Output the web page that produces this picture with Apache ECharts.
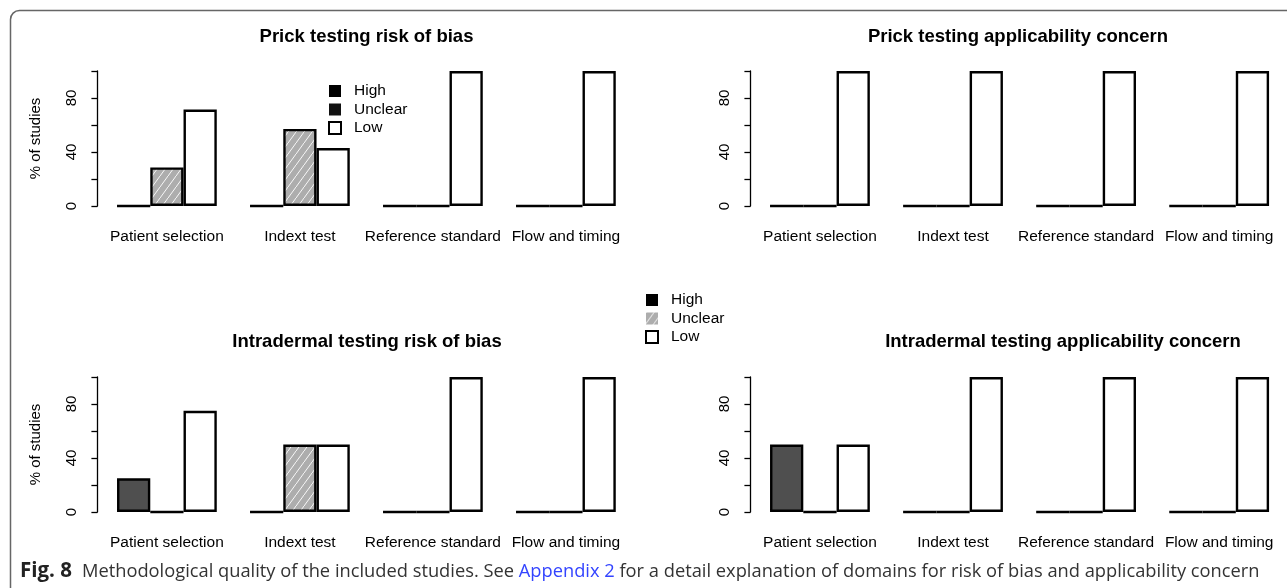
<!DOCTYPE html>
<html>
<head>
<meta charset="utf-8">
<script src="https://cdn.jsdelivr.net/npm/echarts@6/dist/echarts.min.js"></script>
<style>
html,body{margin:0;padding:0;background:#fff;}
#chart{width:1287px;height:588px;}
</style>
</head>
<body>
<div id="chart"></div>
<script>
// ---- data ----
const categories = ['Patient selection', 'Indext test', 'Reference standard', 'Flow and timing'];
const levels = ['High', 'Unclear', 'Low'];
const yTicks = [0, 20, 40, 60, 80, 100];
const yTickLabels = ['0', '', '40', '', '80', ''];

const prickBiasHigh    = [0, 0, 0, 0];
const prickBiasUnclear = [28.6, 57.1, 0, 0];
const prickBiasLow     = [71.4, 42.9, 100, 100];

const prickApplHigh    = [0, 0, 0, 0];
const prickApplUnclear = [0, 0, 0, 0];
const prickApplLow     = [100, 100, 100, 100];

const intraBiasHigh    = [25, 0, 0, 0];
const intraBiasUnclear = [0, 50, 0, 0];
const intraBiasLow     = [75, 50, 100, 100];

const intraApplHigh    = [50, 0, 0, 0];
const intraApplUnclear = [0, 0, 0, 0];
const intraApplLow     = [50, 100, 100, 100];

const panelTitles = ['Prick testing risk of bias', 'Prick testing applicability concern',
                     'Intradermal testing risk of bias', 'Intradermal testing applicability concern'];
const captionBold = 'Fig. 8';
const captionText1 = 'Methodological quality of the included studies. See ';
const captionLink = 'Appendix 2';
const captionText2 = ' for a detail explanation of domains for risk of bias and applicability concern';

// ---- hatch pattern ----
function makeHatch() {
  const c = document.createElement('canvas');
  c.width = 8; c.height = 11;
  const ctx = c.getContext('2d');
  ctx.fillStyle = '#adadad';
  ctx.fillRect(0, 0, 8, 11);
  ctx.strokeStyle = 'rgba(255,255,255,0.9)';
  ctx.lineWidth = 1;
  ctx.beginPath();
  ctx.moveTo(-1, 12.4); ctx.lineTo(8.6, -0.8);
  ctx.stroke();
  return c;
}
const hatch = { image: makeHatch(), repeat: 'repeat' };

const fillColors = { High: '#4f4f4f', Unclear: hatch, Low: '#ffffff' };

const panelData = [
  [prickBiasHigh, prickBiasUnclear, prickBiasLow],
  [prickApplHigh, prickApplUnclear, prickApplLow],
  [intraBiasHigh, intraBiasUnclear, intraBiasLow],
  [intraApplHigh, intraApplUnclear, intraApplLow]
];

const grids = [
  { left: 100.4, top: 71, width: 532, height: 135 },
  { left: 753.4, top: 71, width: 532.3, height: 135 },
  { left: 100.4, top: 377, width: 532, height: 135 },
  { left: 753.4, top: 377, width: 532.3, height: 135 }
];
const titleCenters = [366.5, 1018, 367, 1063];
const titleTops = [27, 27, 332, 332];

const FONT = 'Liberation Sans, Arial, sans-serif';

const xAxes = grids.map((g, i) => ({
  type: 'category', gridIndex: i, data: categories,
  axisLine: { show: false }, axisTick: { show: false },
  axisLabel: { color: '#000', fontSize: 15.5, fontFamily: FONT, margin: 23, interval: 0 }
}));
const yAxes = grids.map((g, i) => ({
  type: 'value', gridIndex: i, min: 0, max: 100, interval: 20, offset: 3,
  splitLine: { show: false },
  axisLine: { show: true, lineStyle: { color: '#000', width: 1.3 } },
  axisTick: { show: true, length: 6, lineStyle: { color: '#000', width: 1.3 } },
  axisLabel: {
    color: '#000', fontSize: 15, fontFamily: FONT, rotate: 90, margin: 18,
    formatter: v => { const k = yTicks.indexOf(v); return k >= 0 ? yTickLabels[k] : ''; }
  },
  name: (i % 2 === 0) ? '% of studies' : '',
  nameLocation: 'middle', nameGap: 54, nameRotate: 90,
  nameTextStyle: { color: '#000', fontSize: 15, fontFamily: FONT }
}));

const series = [];
panelData.forEach((vals, i) => {
  levels.forEach((lv, j) => {
    series.push({
      type: 'bar', name: lv, xAxisIndex: i, yAxisIndex: i,
      data: vals[j], barGap: '0%', barCategoryGap: '25%',
      itemStyle: { color: fillColors[lv], borderColor: '#000', borderWidth: 2.4 },
      emphasis: { disabled: true }, animation: false
    });
  });
});

const titles = panelTitles.map((t, i) => ({
  text: t, left: titleCenters[i], top: titleTops[i], textAlign: 'center', padding: 0,
  textStyle: { fontSize: 18.5, fontWeight: 'bold', color: '#000', fontFamily: FONT }
}));

const legendItemStyle = {
  High: { color: '#000', borderColor: '#000', borderWidth: 0 },
  Unclear: { color: hatch, borderColor: '#000', borderWidth: 0 },
  Low: { color: '#fff', borderColor: '#000', borderWidth: 2 }
};
const legendBase = {
  orient: 'vertical', icon: 'rect', itemWidth: 12, itemHeight: 12, itemGap: 2.5,
  selectedMode: false, padding: 0,
  textStyle: { color: '#000', fontSize: 15.5, fontFamily: FONT, padding: [0, 0, 0, 8] }
};
const legends = [
  Object.assign({}, legendBase, {
    left: 328, top: 83,
    data: levels.map(l => ({ name: l, itemStyle: l === 'Unclear' ? { color: '#111', borderWidth: 0 } : legendItemStyle[l] }))
  }),
  Object.assign({}, legendBase, {
    left: 645, top: 292,
    data: levels.map(l => ({ name: l, itemStyle: legendItemStyle[l] }))
  })
];

const chart = echarts.init(document.getElementById('chart'), null, { renderer: 'canvas' });
chart.setOption({
  animation: false,
  backgroundColor: '#fff',
  title: titles,
  legend: legends,
  grid: grids,
  xAxis: xAxes,
  yAxis: yAxes,
  series: series,
  graphic: [
    {
      type: 'rect', shape: { x: 10.5, y: 10.5, width: 1300, height: 620, r: 9 },
      style: { fill: 'none', stroke: '#666', lineWidth: 1.5 }, silent: true, z: -1
    },
    {
      type: 'text', left: 20, top: 561,
      style: {
        text: '{b|' + captionBold + '}   {n|' + captionText1 + '}{a|' + captionLink + '}{n|' + captionText2 + '}',
        rich: {
          b: { fontFamily: 'Open Sans, sans-serif', fontWeight: 'bold', fontSize: 20.5, fill: '#222' },
          n: { fontFamily: 'Open Sans, sans-serif', fontSize: 18.3, fill: '#333' },
          a: { fontFamily: 'Open Sans, sans-serif', fontSize: 18.3, fill: '#3344ff' }
        }
      }
    }
  ]
});
</script>
</body>
</html>
